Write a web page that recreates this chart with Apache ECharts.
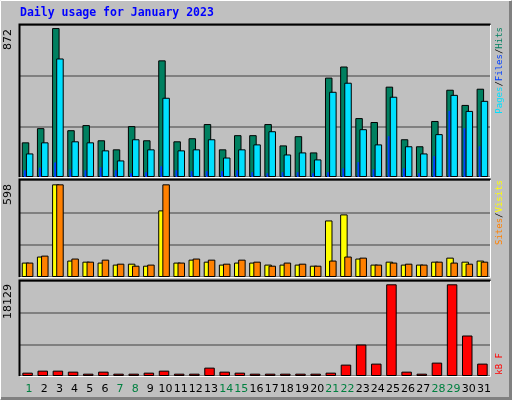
<!DOCTYPE html>
<html><head><meta charset="utf-8">
<script src="https://cdn.jsdelivr.net/npm/echarts@6/dist/echarts.min.js"></script>
<style>html,body{margin:0;padding:0;background:#c0c0c0}#c{width:512px;height:400px}</style>
</head><body><div id="c"></div>
<script>
const days = Array.from({length:31},(_,i)=>String(i+1));
const weekends = [1,7,8,14,15,21,22,28,29];
const hits  = [203,286,872,274,304,215,162,298,215,683,209,227,310,162,245,245,310,185,239,144,582,647,345,322,529,221,180,328,511,422,517];
const files = [39,55,85,45,39,57,39,22,28,63,39,34,34,34,39,28,22,28,28,22,28,51,87,45,239,51,22,122,387,286,180];
const pages = [138,203,694,209,203,156,97,221,162,464,156,162,221,114,162,191,268,132,144,103,499,552,280,191,470,180,138,251,481,387,446];
const visits = [93,132,598,106,99,93,80,86,73,430,93,112,99,80,93,93,80,80,80,73,365,404,119,80,99,80,80,99,125,99,106];
const sites  = [93,138,598,119,99,112,86,73,80,598,93,119,112,86,112,99,73,93,86,73,106,132,125,80,93,86,80,99,93,86,99];
const kbytes = [662,1059,1059,860,463,860,463,463,662,1059,463,463,1654,860,662,463,463,463,463,463,662,2250,6219,2448,18129,860,463,2646,18129,8005,2448];
const yMaxLabels = ['872','598','18129'];

const chart = echarts.init(document.getElementById('c'));
const L=20, R=22;
const grids=[{left:L,right:R,top:25,height:152},{left:L,right:R,top:180,height:97},{left:L,right:R,top:281,height:95}];
const yMax=[890,626,18783];
const bs={borderColor:'#000',borderWidth:1};
function xa(g,show){return {type:'category',gridIndex:g,data:days,show:show,axisLine:{show:false},axisTick:{show:false},
  axisLabel:{show:show,interval:0,margin:8,fontFamily:'DejaVu Sans',fontSize:11,padding:[0,0,0,3],
   formatter:v=>weekends.includes(+v)?'{w|'+v+'}':'{n|'+v+'}',
   rich:{w:{color:'#008040',fontFamily:'DejaVu Sans',fontSize:11},n:{color:'#000',fontFamily:'DejaVu Sans',fontSize:11}}}};}
function ya(g){return {type:'value',gridIndex:g,min:0,max:yMax[g],interval:yMax[g]/3,axisLabel:{show:false},axisLine:{show:false},axisTick:{show:false},splitLine:{lineStyle:{color:'#808080',width:2}}};}
const opt={
 animation:false,backgroundColor:'#c0c0c0',
 grid:grids.map(g=>Object.assign({backgroundColor:'#c0c0c0',show:true,borderWidth:0},g)),
 xAxis:[xa(0,false),xa(0,false),xa(1,false),xa(2,true)],
 yAxis:[ya(0),ya(1),ya(2)],
 series:[
  {type:'bar',xAxisIndex:0,yAxisIndex:0,data:hits,barWidth:7.5,barGap:'-45%',itemStyle:Object.assign({color:'#008060'},bs),z:1},
  {type:'bar',xAxisIndex:0,yAxisIndex:0,data:pages,barWidth:7.5,barGap:'-45%',itemStyle:Object.assign({color:'#00e0ff'},bs),z:3},
  {type:'bar',xAxisIndex:1,yAxisIndex:0,data:files,barWidth:2,barGap:'0%',itemStyle:{color:'#0040ff'},z:2},
  {type:'bar',xAxisIndex:1,yAxisIndex:0,data:files.map(()=>0),barWidth:5.4,barGap:'0%',silent:true,itemStyle:{color:'rgba(0,0,0,0)'}},
  {type:'bar',xAxisIndex:2,yAxisIndex:1,data:visits,barWidth:7.5,barGap:'-45%',itemStyle:Object.assign({color:'#ffff00'},bs)},
  {type:'bar',xAxisIndex:2,yAxisIndex:1,data:sites,barWidth:7.5,barGap:'-45%',itemStyle:Object.assign({color:'#ff8000'},bs)},
  {type:'bar',xAxisIndex:3,yAxisIndex:2,data:kbytes,barWidth:10.5,itemStyle:Object.assign({color:'#ff0000'},bs)}
 ],
 graphic:[]
};
const G=opt.graphic;
G.push({type:'polyline',shape:{points:[[0.5,399],[0.5,0.5],[511,0.5]]},style:{stroke:'#fff',lineWidth:1,fill:null},z:100});
G.push({type:'polyline',shape:{points:[[1,398.5],[510.5,398.5],[510.5,1]]},style:{stroke:'#808080',lineWidth:3,fill:null},z:100});
[[25,177],[180,277],[281,376]].forEach(([t,b])=>{
  G.push({type:'polyline',shape:{points:[[19.5,b],[19.5,t-0.5],[490.5,t-0.5]]},style:{stroke:'#000',lineWidth:2,fill:null},z:100});
  G.push({type:'polyline',shape:{points:[[20,b+0.5],[490.5,b+0.5],[490.5,t]]},style:{stroke:'#fff',lineWidth:1,fill:null},z:100});
});
G.push({type:'text',left:20,top:7,style:{text:'Daily usage for January 2023',fill:'#0000ff',font:'bold 11.5px "DejaVu Sans Mono"'},z:100});
[[29,0],[184,1],[284,2]].forEach(([y,i])=>{
  G.push({type:'text',x:8,y:y,rotation:Math.PI/2,style:{text:yMaxLabels[i],fill:'#000',font:'11px "DejaVu Sans"',align:'right',verticalAlign:'middle'},z:100});
});
function rlab(y,parts){
  const f='9px "DejaVu Sans Mono"';
  G.push({type:'text',x:500,y:y,rotation:Math.PI/2,style:{
   text:parts.map(p=>'{'+p[1]+'|'+p[0]+'}').join(''),align:'right',verticalAlign:'middle',
   rich:{g:{fill:'#008060',font:f},c:{fill:'#00e0ff',font:f},b:{fill:'#0040ff',font:f},
     k:{fill:'#000',font:f},y:{fill:'#ffff00',font:f},o:{fill:'#ff8000',font:f},r:{fill:'#ff0000',font:f}}},z:100});
}
rlab(27,[['Pages','c'],['/','k'],['Files','b'],['/','k'],['Hits','g']]);
rlab(180,[['Sites','o'],['/','k'],['Visits','y']]);
rlab(353,[['kB F','r']]);
chart.setOption(opt);
</script></body></html>
